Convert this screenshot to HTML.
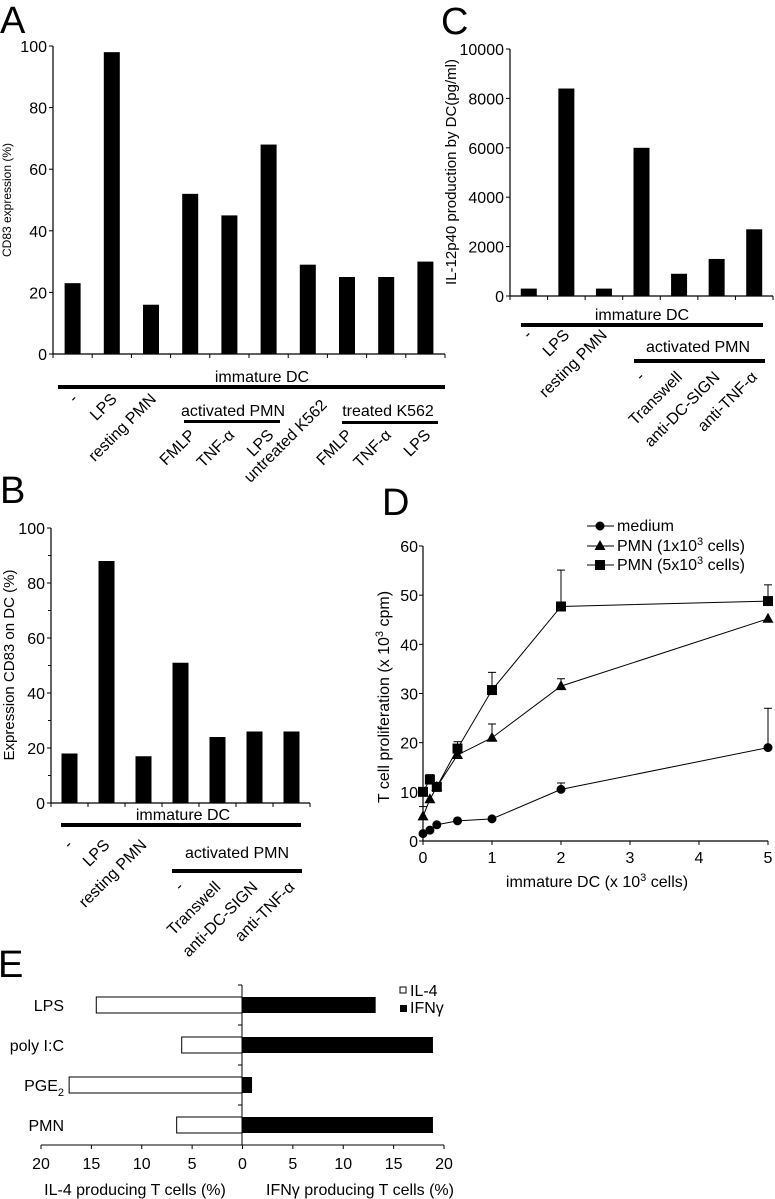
<!DOCTYPE html>
<html><head><meta charset="utf-8"><style>
body{margin:0;background:#fff;}
svg{display:block;font-family:"Liberation Sans",Arial,sans-serif;}
text{fill:#000;}
</style></head><body>
<svg id="fig" width="775" height="1199" viewBox="0 0 775 1199" xmlns="http://www.w3.org/2000/svg">
<g id="gA"></g>
<g id="gB"></g>
<g id="gC"></g>
<g id="gD"></g>
<g id="gE"></g>
</svg>
<script>
// Panel A data
const aCats = ["-","LPS","resting PMN","FMLP","TNF-α","LPS","untreated K562","FMLP","TNF-α","LPS"];
const aVals = [23,98,16,52,45,68,29,25,25,30];
const aTicks = [0,20,40,60,80,100];
// Panel B data
const bCats = ["-","LPS","resting PMN","-","Transwell","anti-DC-SIGN","anti-TNF-α"];
const bVals = [18,88,17,51,24,26,26];
const bTicks = [0,20,40,60,80,100];
// Panel C data
const cCats = ["-","LPS","resting PMN","-","Transwell","anti-DC-SIGN","anti-TNF-α"];
const cVals = [300,8400,300,6000,900,1500,2700];
const cTicks = [0,2000,4000,6000,8000,10000];
// Panel D data
const dX = [0,0.1,0.2,0.5,1,2,5];
const dMedium = [1.5,2.2,3.3,4.1,4.5,10.5,19];
const dMediumErr = [0,0,0,0,0,1.3,8];
const dPmn1 = [5,8.5,11,17.5,21,31.5,45.2];
const dPmn1Err = [2,0,0,0,2.8,1.5,0];
const dPmn5 = [10,12.5,11,18.8,30.7,47.7,48.8];
const dPmn5Err = [0,1,0,1.4,3.6,7.4,3.3];
const dXTicks = [0,1,2,3,4,5];
const dYTicks = [0,10,20,30,40,50,60];
// Panel E data
const eCats = ["LPS","poly I:C","PGE","PMN"];
const eIL4 = [14.5,6,17.2,6.5];
const eIFN = [13.3,19,1,19];
const eTicks = [20,15,10,5,0,5,10,15,20];

const NS="http://www.w3.org/2000/svg";
function el(parent,tag,attrs,txt){const e=document.createElementNS(NS,tag);for(const k in attrs)e.setAttribute(k,attrs[k]);if(txt!==undefined)e.textContent=txt;parent.appendChild(e);return e;}

function barPanel(g, cfg){
  const {x0,x1,y0,y1,max,cats,vals,ticks,minor}=cfg;
  const n=cats.length, cw=(x1-x0)/n;
  const ys=v=>y0-(v/max)*(y0-y1);
  const xs=i=>x0+cw*(i+0.5);
  let a=el(g,'line',{x1:x0,y1:y1,x2:x0,y2:y0,stroke:'#000','stroke-width':1.2});
  
  
  a=el(g,'line',{x1:x0,y1:y0,x2:x1,y2:y0,stroke:'#000','stroke-width':1.2});
  
  
  ticks.forEach(t=>{
    el(g,'line',{x1:x0-4,y1:ys(t),x2:x0,y2:ys(t),stroke:'#000'});
    const tx=el(g,'text',{x:x0-6,y:ys(t)+6,'text-anchor':'end','font-size':cfg.tfs||16},String(t));
    
    
  });
  if(minor){for(let i=0;i<ticks.length-1;i++){const m=(ticks[i]+ticks[i+1])/2;el(g,'line',{x1:x0-3,y1:ys(m),x2:x0,y2:ys(m),stroke:'#000'});}}
  for(let i=0;i<=n;i++) el(g,'line',{x1:x0+cw*i,y1:y0,x2:x0+cw*i,y2:y0+4,stroke:'#000'});
  vals.forEach((v,i)=>{
    const r=el(g,'rect',{x:xs(i)-8,y:ys(v),width:16,height:y0-ys(v),fill:'#000'});
    
    
  });
  return xs;
}
function rotLabel(g,x,y,t,fs){
  const e=el(g,'text',{x:x,y:y,'text-anchor':'end','font-size':fs||16,transform:`rotate(-45 ${x} ${y})`},t);
  
  
  return e;
}
function heading(g,x,y,t,fs){const e=el(g,'text',{x:x,y:y,'font-size':fs||16,'text-anchor':'middle'},t);return e;}

// ---- Panel A ----
(function(){
  const g=document.getElementById('gA');
  let L=el(g,'text',{x:0,y:33,'font-size':38},'A');
  
  
  const xs=barPanel(g,{x0:53,x1:445,y0:354,y1:46,max:100,cats:aCats,vals:aVals,ticks:aTicks});
  let yl=el(g,'text',{x:0,y:0,'font-size':12,'text-anchor':'middle',transform:'translate(11,200) rotate(-90)'},'CD83 expression (%)');
  
  
  let h=heading(g,262,382,'immature DC');
  
  
  el(g,'rect',{x:58,y:385,width:387,height:4,fill:'#000'});
  el(g,'text',{x:233,y:416,'font-size':16,'text-anchor':'middle'},'activated PMN');
  el(g,'rect',{x:184,y:420,width:96,height:3,fill:'#000'});
  el(g,'text',{x:388,y:416,'font-size':16,'text-anchor':'middle'},'treated K562');
  el(g,'rect',{x:342,y:421,width:96,height:3,fill:'#000'});
  const row2=[3,4,5,7,8,9];
  aCats.forEach((c,i)=>{
    let x=xs(i)+6,y=400;
    if(row2.includes(i))y=436;
    if(i===6){x=xs(i)+20;y=406;}
    rotLabel(g,x,y,c);
  });
})();

// ---- Panel B ----
(function(){
  const g=document.getElementById('gB');
  let L=el(g,'text',{x:0,y:503,'font-size':38},'B');
  
  
  const xs=barPanel(g,{x0:51,x1:310,y0:803,y1:528,max:100,cats:bCats,vals:bVals,ticks:bTicks,minor:true});
  let yl=el(g,'text',{x:0,y:0,'font-size':15,'text-anchor':'middle',transform:'translate(14,665) rotate(-90)'},'Expression CD83 on DC (%)');
  
  
  heading(g,183,820,'immature DC');
  el(g,'rect',{x:61,y:823,width:240,height:4,fill:'#000'});
  el(g,'text',{x:237,y:858,'font-size':16,'text-anchor':'middle'},'activated PMN');
  el(g,'rect',{x:172,y:869,width:130,height:4,fill:'#000'});
  bCats.forEach((c,i)=>{const y=i>=3?888:846;rotLabel(g,xs(i)+4,y,c);});
})();

// ---- Panel C ----
(function(){
  const g=document.getElementById('gC');
  let L=el(g,'text',{x:441,y:34,'font-size':38},'C');
  
  
  const xs=barPanel(g,{x0:510,x1:773,y0:296,y1:49,max:10000,cats:cCats,vals:cVals,ticks:cTicks});
  let yl=el(g,'text',{x:0,y:0,'font-size':15,'text-anchor':'middle',transform:'translate(456,172) rotate(-90)'},'IL-12p40 production by DC(pg/ml)');
  
  
  heading(g,642,320,'immature DC');
  el(g,'rect',{x:521,y:323,width:242,height:4,fill:'#000'});
  el(g,'text',{x:698,y:352,'font-size':16,'text-anchor':'middle'},'activated PMN');
  el(g,'rect',{x:634,y:359,width:131,height:4,fill:'#000'});
  cCats.forEach((c,i)=>{const y=i>=3?378:336;rotLabel(g,xs(i)+4,y,c);});
})();

// ---- Panel D ----
(function(){
  const g=document.getElementById('gD');
  let L=el(g,'text',{x:382,y:515,'font-size':38},'D');
  
  
  const X0=423,X1=768,Y0=841,Y1=546;
  const xs=v=>X0+v/5*(X1-X0), ys=v=>Y0-v/60*(Y0-Y1);
  el(g,'line',{x1:X0,y1:Y1,x2:X0,y2:Y0,stroke:'#000','stroke-width':1.2});
  el(g,'line',{x1:X0,y1:Y0,x2:X1,y2:Y0,stroke:'#000','stroke-width':1.2});
  dYTicks.forEach(t=>{el(g,'line',{x1:X0-4,y1:ys(t),x2:X0,y2:ys(t),stroke:'#000'});el(g,'text',{x:X0-5,y:ys(t)+6,'text-anchor':'end','font-size':16},String(t));});
  dXTicks.forEach(t=>{el(g,'line',{x1:xs(t),y1:Y0,x2:xs(t),y2:Y0+4,stroke:'#000'});el(g,'text',{x:xs(t),y:Y0+22,'text-anchor':'middle','font-size':16},String(t));});
  let xt=el(g,'text',{x:597,y:887,'text-anchor':'middle','font-size':16},'');
  xt.innerHTML='immature DC (x 10<tspan dy="-6" font-size="11">3</tspan><tspan dy="6"> cells)</tspan>';
  
  
  let yl=el(g,'text',{x:0,y:0,'font-size':16,'text-anchor':'middle',transform:'translate(389,697) rotate(-90)'},'');
  yl.innerHTML='T cell proliferation (x 10<tspan dy="-6" font-size="11">3</tspan><tspan dy="6"> cpm)</tspan>';
  
  
  function series(vals,errs,shape,name){
    const s=el(g,'g',{});
    
    
    el(s,'polyline',{points:vals.map((v,i)=>xs(dX[i])+','+ys(v)).join(' '),fill:'none',stroke:'#000','stroke-width':1});
    vals.forEach((v,i)=>{
      const x=xs(dX[i]),y=ys(v);
      if(errs[i]>0){el(s,'line',{x1:x,y1:y,x2:x,y2:ys(v+errs[i]),stroke:'#000'});el(s,'line',{x1:x-4,y1:ys(v+errs[i]),x2:x+4,y2:ys(v+errs[i]),stroke:'#000'});}
      marker(s,x,y,shape);
    });
  }
  function marker(p,x,y,shape){
    let m;
    if(shape==='c')m=el(p,'circle',{cx:x,cy:y,r:4.5,fill:'#000'});
    else if(shape==='t')m=el(p,'polygon',{points:`${x},${y-6} ${x-5.5},${y+4} ${x+5.5},${y+4}`,fill:'#000'});
    else m=el(p,'rect',{x:x-5,y:y-5,width:10,height:10,fill:'#000'});
    
    
  }
  series(dMedium,dMediumErr,'c','medium');
  series(dPmn1,dPmn1Err,'t','pmn-1e3');
  series(dPmn5,dPmn5Err,'s','pmn-5e3');
  const leg=[['c','medium',526],['t','PMN (1x10|3| cells)',546],['s','PMN (5x10|3| cells)',565]];
  leg.forEach(([sh,t,y])=>{
    const lg=el(g,'g',{});
    
    
    el(lg,'line',{x1:587,y1:y,x2:614,y2:y,stroke:'#000'});
    marker(lg,600,y,sh);
    const p=t.split('|');
    const tx=el(lg,'text',{x:617,y:y+5,'font-size':16},'');
    if(p.length>1)tx.innerHTML=p[0]+'<tspan dy="-6" font-size="11">'+p[1]+'</tspan><tspan dy="6">'+p[2]+'</tspan>';
    else tx.textContent=t;
  });
})();

// ---- Panel E ----
(function(){
  const g=document.getElementById('gE');
  let L=el(g,'text',{x:-2,y:977,'font-size':38},'E');
  
  
  const C=242,U=10.05,Y0=985,Y1=1145,bh=(Y1-Y0)/eCats.length;
  el(g,'line',{x1:C,y1:Y0,x2:C,y2:Y1,stroke:'#000'});
  el(g,'line',{x1:41,y1:Y1,x2:444,y2:Y1,stroke:'#000'});
  for(let i=0;i<=eCats.length;i++)el(g,'line',{x1:C-4,y1:Y0+bh*i,x2:C,y2:Y0+bh*i,stroke:'#000'});
  eTicks.forEach((t,i)=>{const x=41+i*(403/8);el(g,'line',{x1:x,y1:Y1,x2:x,y2:Y1+4,stroke:'#000'});el(g,'text',{x:x,y:1169,'text-anchor':'middle','font-size':16},String(t));});
  eCats.forEach((c,i)=>{
    const yc=Y0+bh*(i+0.5);
    const r1=el(g,'rect',{x:C-eIL4[i]*U,y:yc-8,width:eIL4[i]*U,height:16,fill:'#fff',stroke:'#000','stroke-width':1});
    
    
    const r2=el(g,'rect',{x:C,y:yc-8,width:eIFN[i]*U,height:16,fill:'#000'});
    
    
    const t=el(g,'text',{x:64,y:yc+6,'text-anchor':'end','font-size':16},c);
    if(c==='PGE'){t.innerHTML='PGE<tspan dy="5" font-size="11">2</tspan>';}
    
    
  });
  const l1=el(g,'g',{});
  
  
  el(l1,'rect',{x:400,y:987,width:6,height:6,fill:'#fff',stroke:'#000'});
  el(l1,'text',{x:410,y:996,'font-size':16},'IL-4');
  const l2=el(g,'g',{});
  
  
  el(l2,'rect',{x:400,y:1005,width:7,height:7,fill:'#000'});
  el(l2,'text',{x:410,y:1013,'font-size':16},'IFNγ');
  let t1=el(g,'text',{x:135,y:1195,'text-anchor':'middle','font-size':16},'IL-4 producing T cells (%)');
  
  
  let t2=el(g,'text',{x:360,y:1195,'text-anchor':'middle','font-size':16},'IFNγ producing T cells (%)');
  
  
})();
</script>
</body></html>
